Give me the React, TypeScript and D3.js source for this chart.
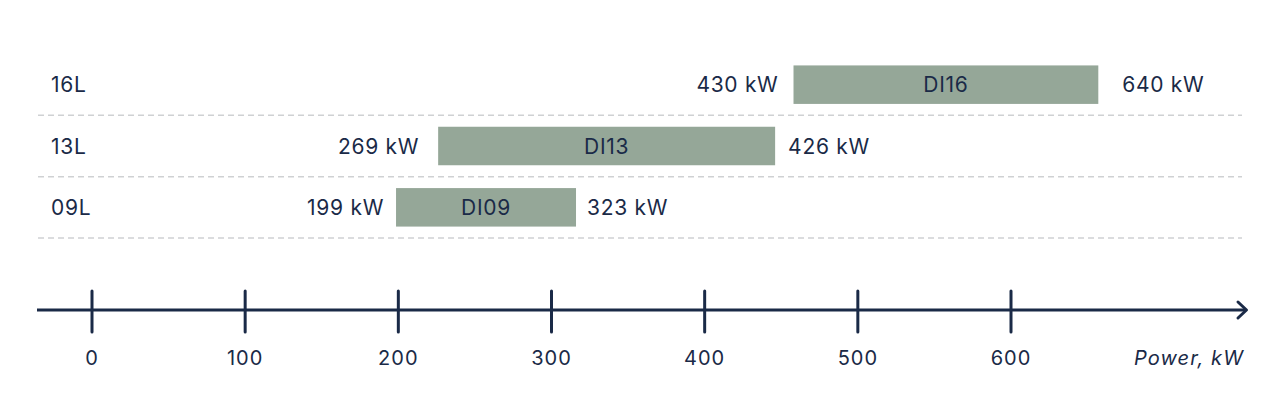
import React from "react";
import * as d3 from "d3";

const rows = ["16L", "13L", "09L"];
const engines = ["DI16", "DI13", "DI09"];
const barStart = [458, 226, 198.5];
const barEnd = [657, 446, 316];
const minLabels = ["430 kW", "269 kW", "199 kW"];
const maxLabels = ["640 kW", "426 kW", "323 kW"];
const ticks = [0, 100, 200, 300, 400, 500, 600];
const axisTitle = "Power, kW";

// layout (not data)
const leftGap = [15, 19, 12];
const rightGap = [24, 13, 11];

const W = 1280;
const H = 416;
const INK = "#1a2a47";
const BAR = "#95a798";
const FONT = "Inter, 'Noto Sans', sans-serif";

export default function App() {
  const x = d3.scaleLinear().domain([0, 600]).range([92, 1011]);
  const y = d3.scaleBand<string>().domain(rows).range([54, 238]).paddingInner(0).paddingOuter(0);
  const bh = 38.5;
  const axisY = 310;
  const ls = 0.7;

  return (
    <svg width={W} height={H} style={{ position: "absolute", left: 0, top: 0, background: "#fff" }}>
      {rows.map((r, i) => {
        const y0 = y(r)!;
        const cy = y0 + y.bandwidth() / 2;
        return (
          <g key={r}>
            <line x1={38} x2={1242} y1={y0 + y.bandwidth()} y2={y0 + y.bandwidth()}
              stroke="#cfd1d3" strokeWidth={1.5} strokeDasharray="6 4" />
            <text x={51} y={cy} dy="0.36em" fontFamily={FONT} fontSize={21} letterSpacing={ls} fill={INK}>{r}</text>
            <rect x={x(barStart[i])} width={x(barEnd[i]) - x(barStart[i])} y={cy - bh / 2} height={bh} fill={BAR} />
            <text x={(x(barStart[i]) + x(barEnd[i])) / 2} y={cy} dy="0.36em" textAnchor="middle"
              fontFamily={FONT} fontSize={21} letterSpacing={ls} fill={INK}>{engines[i]}</text>
            <text x={x(barStart[i]) - leftGap[i]} y={cy} dy="0.36em" textAnchor="end"
              fontFamily={FONT} fontSize={21} letterSpacing={ls} fill={INK}>{minLabels[i]}</text>
            <text x={x(barEnd[i]) + rightGap[i]} y={cy} dy="0.36em" textAnchor="start"
              fontFamily={FONT} fontSize={21} letterSpacing={ls} fill={INK}>{maxLabels[i]}</text>
          </g>
        );
      })}
      <line x1={37} x2={1246} y1={axisY} y2={axisY} stroke={INK} strokeWidth={3} />
      <polyline points={`1238,302 1246.5,310 1238,318`} fill="none" stroke={INK} strokeWidth={3}
        strokeLinecap="round" strokeLinejoin="round" />
      {ticks.map((t) => (
        <g key={t}>
          <line x1={x(t)} x2={x(t)} y1={291} y2={332} stroke={INK} strokeWidth={3} strokeLinecap="round" />
          <text x={x(t)} y={358} dy="0.36em" textAnchor="middle" fontFamily={FONT} fontSize={20}
            letterSpacing={1} fill={INK}>{t}</text>
        </g>
      ))}
      <text x={1244} y={358} dy="0.36em" textAnchor="end" fontFamily={FONT} fontSize={20}
        letterSpacing={1.1} fontStyle="italic" fill={INK}>{axisTitle}</text>
    </svg>
  );
}
